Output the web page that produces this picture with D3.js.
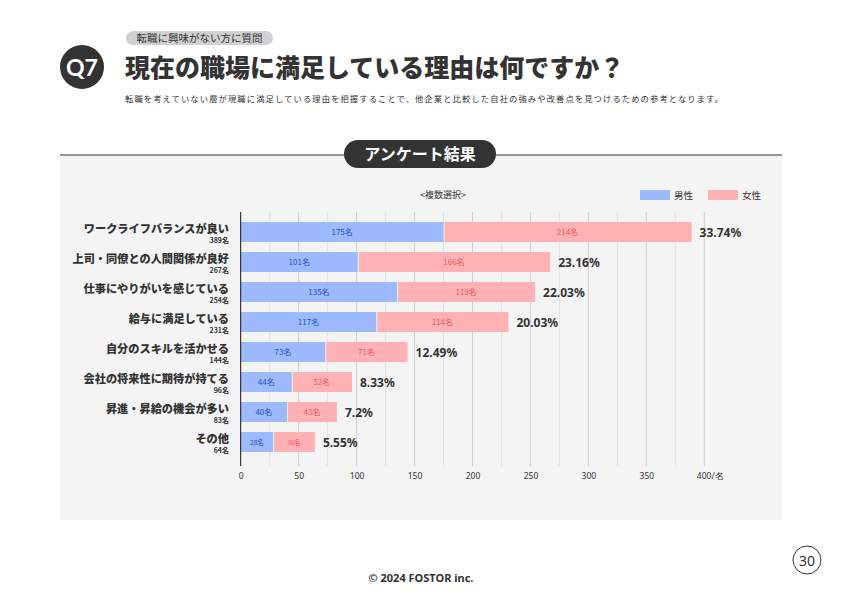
<!DOCTYPE html>
<html><head><meta charset="utf-8">
<script src="https://cdn.jsdelivr.net/npm/d3@7"></script>
<style>
html,body{margin:0;padding:0;background:#fff;}
svg{display:block;font-family:"Noto Sans CJK JP","Noto Sans",sans-serif;}
</style></head>
<body>
<svg id="c" width="842" height="595"></svg>
<script>
const categories = ["ワークライフバランスが良い","上司・同僚との人間関係が良好","仕事にやりがいを感じている","給与に満足している","自分のスキルを活かせる","会社の将来性に期待が持てる","昇進・昇給の機会が多い","その他"];
const male = [175,101,135,117,73,44,40,28];
const female = [214,166,119,114,71,52,43,36];
const totals = [389,267,254,231,144,96,83,64];
const percents = ["33.74%","23.16%","22.03%","20.03%","12.49%","8.33%","7.2%","5.55%"];
const tickValues = [0,50,100,150,200,250,300,350,400];
const seriesNames = ["男性","女性"];

const svg = d3.select("#c");
const dark = "#333";
const blue = "#9db9ff", pink = "#ffb1b4";
const blueText = "#1f4fd1", pinkText = "#f2545b";

// Header
svg.append("rect").attr("x",126).attr("y",31).attr("width",147).attr("height",14).attr("rx",7).attr("fill","#d0d0d0");
svg.append("text").attr("x",199.5).attr("y",41.8).attr("text-anchor","middle").attr("font-size",10.5).attr("fill",dark).text("転職に興味がない方に質問");
svg.append("circle").attr("cx",82).attr("cy",67).attr("r",22).attr("fill",dark);
svg.append("text").attr("x",82).attr("y",75.5).attr("text-anchor","middle").attr("font-size",23).attr("font-weight","bold").attr("fill","#fff").attr("font-family","Lato, 'Noto Sans', sans-serif").text("Q7");
svg.append("text").attr("x",125).attr("y",77).attr("font-size",25).attr("font-weight",900).attr("fill",dark).text("現在の職場に満足している理由は何ですか？");
svg.append("text").attr("x",125).attr("y",102).attr("font-size",8.3).attr("letter-spacing",1.1).attr("fill",dark).text("転職を考えていない層が現職に満足している理由を把握することで、他企業と比較した自社の強みや改善点を見つけるための参考となります。");

// Panel
svg.append("rect").attr("x",60).attr("y",155).attr("width",722).attr("height",365).attr("fill","#f4f4f4");
svg.append("line").attr("x1",60).attr("x2",782).attr("y1",155).attr("y2",155).attr("stroke",dark).attr("stroke-width",1.2);
svg.append("rect").attr("x",344).attr("y",140).attr("width",152).attr("height",28).attr("rx",14).attr("fill",dark);
svg.append("text").attr("x",420).attr("y",160).attr("text-anchor","middle").attr("font-size",16).attr("font-weight","bold").attr("fill","#fff").text("アンケート結果");

svg.append("text").attr("x",443).attr("y",198).attr("text-anchor","middle").attr("font-size",9).attr("fill",dark).text("<複数選択>");

// Legend
const legX = [640,708];
seriesNames.forEach((n,i)=>{
  svg.append("rect").attr("x",legX[i]).attr("y",190).attr("width",30).attr("height",10).attr("fill",i?pink:blue);
  svg.append("text").attr("x",legX[i]+34).attr("y",199).attr("font-size",9.5).attr("fill",dark).text(n);
});

// Scales
const x = d3.scaleLinear().domain([0,400]).range([240.7,704.3]);
const y = d3.scaleBand().domain(categories).range([217,457]).paddingInner(1/3).paddingOuter(1/6);

// Gridlines
const minor = d3.range(25,400,50);
svg.append("g").selectAll("line").data(minor).join("line")
  .attr("x1",d=>x(d)).attr("x2",d=>x(d)).attr("y1",212).attr("y2",466)
  .attr("stroke","#e2e2e2").attr("stroke-width",1);
svg.append("g").selectAll("line").data(tickValues.slice(1)).join("line")
  .attr("x1",d=>x(d)).attr("x2",d=>x(d)).attr("y1",212).attr("y2",466)
  .attr("stroke","#cfcfcf").attr("stroke-width",1);

// Axis labels
const ax = svg.append("g").attr("transform","translate(0,466)")
  .call(d3.axisBottom(x).tickValues(tickValues).tickSize(0).tickPadding(7).tickFormat(d=>d===400?"400/名":d));
ax.select(".domain").remove();
ax.selectAll("text").attr("font-size",8.5).attr("fill",dark).attr("font-family","'Noto Sans', sans-serif");
ax.selectAll(".tick").filter(d=>d===400).select("text").attr("text-anchor","start").attr("dx",-8);

// Bars
const g = svg.append("g");
categories.forEach((c,i)=>{
  const y0 = y(c), h = y.bandwidth();
  g.append("rect").attr("x",x(0)).attr("y",y0).attr("width",x(male[i])-x(0)).attr("height",h).attr("fill",blue);
  g.append("rect").attr("x",x(male[i])+1).attr("y",y0).attr("width",x(male[i]+female[i])-x(male[i])-1).attr("height",h).attr("fill",pink);
  const fs = i===7?6.5:8;
  g.append("text").attr("x",(x(0)+x(male[i]))/2).attr("y",y0+h/2+3).attr("text-anchor","middle").attr("font-size",fs).attr("fill",blueText).text(male[i]+"名");
  g.append("text").attr("x",(x(male[i])+x(male[i]+female[i]))/2).attr("y",y0+h/2+3).attr("text-anchor","middle").attr("font-size",fs).attr("fill",pinkText).text(female[i]+"名");
  g.append("text").attr("x",x(totals[i])+8).attr("y",y0+h/2+4.5).attr("font-size",12).attr("font-weight","bold").attr("fill",dark).attr("font-family","'Noto Sans', sans-serif").text(percents[i]);
  g.append("text").attr("x",229).attr("y",y0+h/2+0.5).attr("text-anchor","end").attr("font-size",11.2).attr("font-weight",900).attr("fill",dark).text(c);
  g.append("text").attr("x",229).attr("y",y0+h/2+11).attr("text-anchor","end").attr("font-size",7).attr("font-weight","bold").attr("fill",dark).text(totals[i]+"名");
});

// Axis line
svg.append("line").attr("x1",x(0)).attr("x2",x(0)).attr("y1",212).attr("y2",466).attr("stroke","#111").attr("stroke-width",1);

// Footer
svg.append("text").attr("x",421).attr("y",582).attr("text-anchor","middle").attr("font-size",11).attr("font-weight","bold").attr("fill",dark).attr("font-family","'Noto Sans', sans-serif").text("© 2024 FOSTOR inc.");
svg.append("circle").attr("cx",807).attr("cy",560).attr("r",14).attr("fill","none").attr("stroke",dark).attr("stroke-width",1);
svg.append("text").attr("x",807).attr("y",565.5).attr("text-anchor","middle").attr("font-size",14).attr("fill",dark).attr("font-family","'Noto Sans', sans-serif").text("30");
</script>
</body></html>
